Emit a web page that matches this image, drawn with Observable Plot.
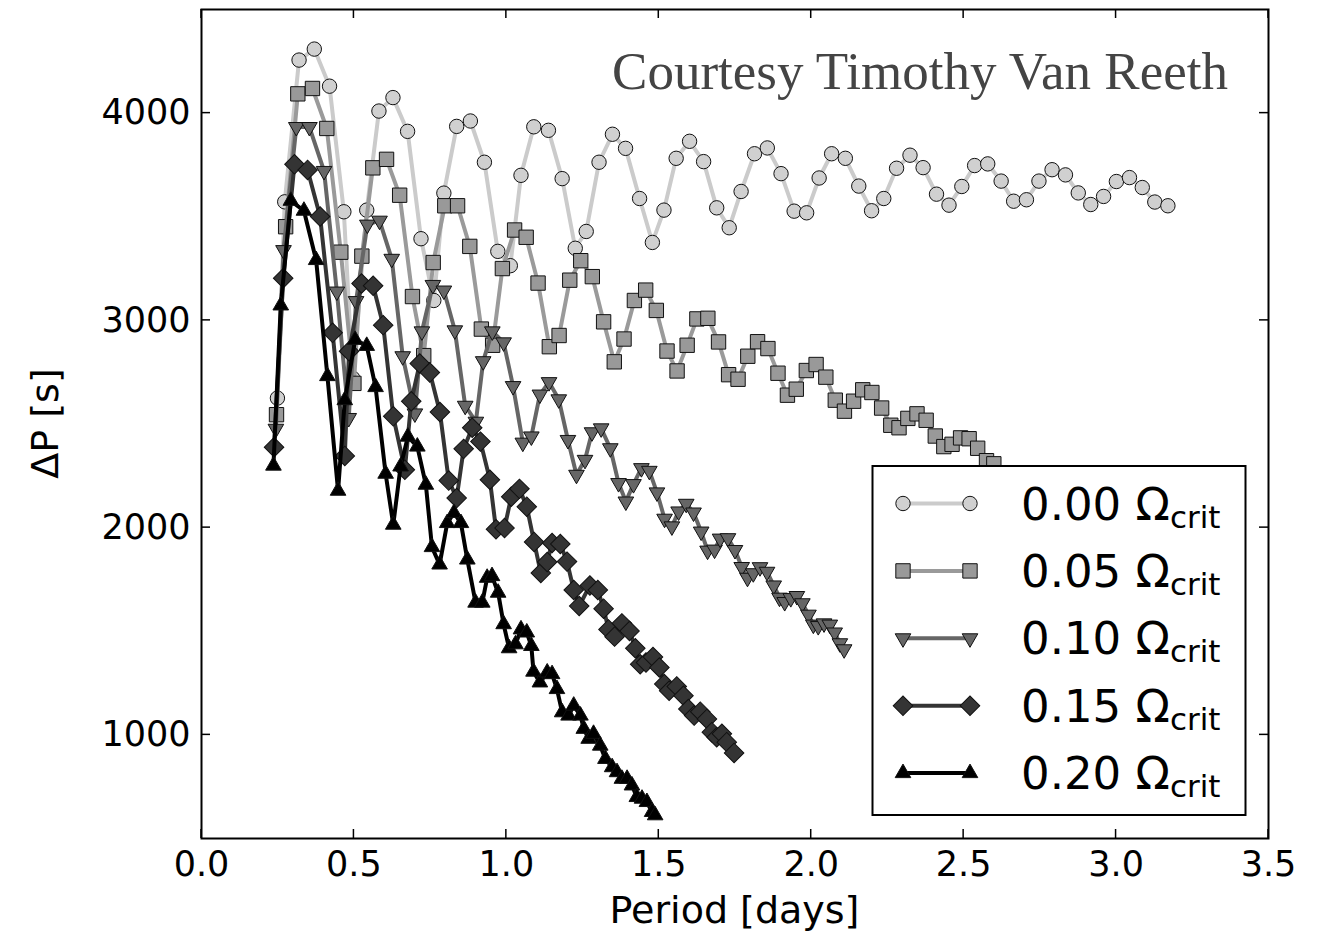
<!DOCTYPE html>
<html>
<head>
<meta charset="utf-8">
<script src="https://cdn.jsdelivr.net/npm/d3@7"></script>
<script src="https://cdn.jsdelivr.net/npm/@observablehq/plot@0.6"></script>
<style>
  html, body { margin: 0; padding: 0; background: #fff; }
  #chart { width: 1322px; height: 935px; }
</style>
</head>
<body>
<div id="chart"></div>
<script>
// ---- data ----
const seriesLabels = ["0.00", "0.05", "0.10", "0.15", "0.20"];

const period_000 = [0.249,0.273,0.320,0.370,0.420,0.467,0.496,0.542,0.582,0.628,0.676,0.720,0.762,0.795,0.837,0.882,0.928,0.972,1.013,1.048,1.090,1.138,1.183,1.226,1.262,1.304,1.348,1.391,1.437,1.479,1.517,1.557,1.601,1.647,1.690,1.731,1.770,1.814,1.856,1.901,1.944,1.985,2.026,2.067,2.112,2.156,2.198,2.238,2.280,2.324,2.367,2.411,2.452,2.494,2.536,2.579,2.623,2.664,2.706,2.747,2.790,2.834,2.876,2.917,2.959,3.001,3.044,3.086,3.127,3.170];
const dP_000 = [2625,3572,4256,4309,4130,3524,2721,3532,4010,4075,3912,3394,3096,3614,3936,3962,3763,3333,3264,3700,3934,3917,3684,3348,3429,3763,3898,3830,3588,3376,3532,3782,3864,3766,3543,3447,3622,3804,3832,3708,3527,3519,3687,3804,3782,3648,3529,3588,3734,3797,3737,3609,3556,3646,3747,3755,3672,3575,3582,3672,3727,3702,3615,3559,3598,3670,3689,3641,3571,3553];

const period_005 = [0.246,0.276,0.316,0.364,0.411,0.457,0.500,0.526,0.562,0.607,0.650,0.692,0.729,0.760,0.798,0.840,0.880,0.918,0.955,0.987,1.027,1.065,1.104,1.141,1.173,1.208,1.244,1.282,1.319,1.354,1.386,1.420,1.457,1.492,1.527,1.560,1.593,1.625,1.661,1.696,1.729,1.760,1.792,1.824,1.858,1.891,1.922,1.951,1.984,2.016,2.048,2.079,2.109,2.139,2.169,2.199,2.231,2.261,2.288,2.317,2.347,2.377,2.407,2.435,2.462,2.490,2.518,2.546,2.575,2.599];
const dP_005 = [2545,3452,4093,4119,3926,3329,2696,3310,3736,3777,3604,3115,2830,3279,3553,3553,3357,2958,2880,3250,3436,3401,3180,2873,2927,3194,3288,3211,2993,2800,2910,3096,3146,3048,2852,2756,2880,3007,3010,2896,2738,2716,2827,2897,2864,2745,2639,2668,2758,2787,2726,2615,2562,2610,2665,2652,2577,2494,2482,2527,2549,2518,2442,2391,2402,2433,2429,2383,2323,2308];

const period_010 = [0.244,0.269,0.311,0.354,0.402,0.444,0.483,0.507,0.544,0.584,0.624,0.660,0.700,0.723,0.759,0.795,0.831,0.865,0.900,0.924,0.954,0.991,1.022,1.054,1.082,1.110,1.140,1.172,1.202,1.230,1.258,1.281,1.311,1.341,1.368,1.392,1.417,1.443,1.469,1.494,1.519,1.543,1.565,1.590,1.614,1.639,1.660,1.683,1.701,1.727,1.750,1.772,1.791,1.810,1.832,1.855,1.877,1.896,1.913,1.933,1.953,1.971,1.991,2.007,2.023,2.042,2.061,2.077,2.094,2.108];
const dP_010 = [2477,3339,3933,3933,3721,3139,2529,3093,3462,3481,3297,2827,2551,2947,3171,3144,2952,2588,2511,2803,2947,2894,2683,2410,2440,2642,2702,2619,2423,2255,2327,2460,2479,2383,2215,2126,2210,2287,2274,2170,2043,2006,2078,2115,2073,1981,1889,1894,1947,1949,1892,1810,1758,1780,1809,1787,1721,1662,1641,1660,1670,1635,1580,1532,1525,1538,1532,1494,1442,1413];

const period_015 = [0.238,0.268,0.305,0.348,0.389,0.430,0.470,0.484,0.525,0.563,0.596,0.629,0.667,0.688,0.716,0.749,0.782,0.811,0.837,0.860,0.888,0.915,0.946,0.966,0.994,1.016,1.043,1.067,1.091,1.113,1.134,1.150,1.177,1.199,1.221,1.239,1.274,1.300,1.319,1.335,1.355,1.379,1.404,1.423,1.439,1.458,1.481,1.502,1.518,1.534,1.559,1.581,1.597,1.616,1.636,1.658,1.674,1.690,1.707,1.723,1.747];
const dP_015 = [2388,3203,3753,3726,3501,2940,2346,2851,3178,3167,2977,2537,2279,2610,2792,2748,2558,2227,2143,2380,2482,2415,2231,1992,1998,2149,2187,2101,1931,1781,1834,1926,1921,1836,1699,1622,1721,1699,1609,1509,1474,1538,1501,1418,1341,1349,1376,1325,1245,1213,1234,1189,1125,1093,1112,1077,1013,989,1005,965,913];

const period_020 = [0.236,0.260,0.293,0.336,0.376,0.413,0.448,0.470,0.504,0.542,0.571,0.604,0.629,0.653,0.677,0.708,0.736,0.756,0.781,0.806,0.828,0.851,0.872,0.899,0.921,0.937,0.953,0.973,0.991,1.009,1.030,1.048,1.067,1.082,1.089,1.110,1.134,1.150,1.166,1.183,1.204,1.221,1.243,1.254,1.270,1.286,1.308,1.325,1.347,1.363,1.379,1.396,1.412,1.428,1.445,1.461,1.478,1.488];
const dP_020 = [2299,3072,3577,3529,3291,2731,2178,2615,2906,2877,2678,2260,2014,2295,2439,2391,2207,1906,1822,2022,2071,2022,1846,1638,1638,1758,1766,1686,1534,1418,1437,1509,1494,1429,1305,1253,1301,1293,1221,1109,1093,1141,1093,1029,981,1005,948,884,844,820,788,788,756,700,692,676,628,612];

const xTicks = [0.0, 0.5, 1.0, 1.5, 2.0, 2.5, 3.0, 3.5];
const yTicks = [1000, 2000, 3000, 4000];

// ---- styling per series ----
const styles = [
  {symbol: "circle",   d3sym: d3.symbolCircle,   rotate: 0,   r: 7.2, fill: "#d0d0d0", line: "#cbcbcb"},
  {symbol: "square",   d3sym: d3.symbolSquare,   rotate: 0,   r: 8.1, fill: "#999999", line: "#9a9a9a"},
  {symbol: "triangle", d3sym: d3.symbolTriangle, rotate: 180, r: 5.8, fill: "#666666", line: "#666666"},
  {symbol: "square",   d3sym: d3.symbolSquare,   rotate: 45,  r: 7.8, fill: "#343434", line: "#343434"},
  {symbol: "triangle", d3sym: d3.symbolTriangle, rotate: 0,   r: 5.8, fill: "#000000", line: "#000000"}
];
const periods = [period_000, period_005, period_010, period_015, period_020];
const dPs = [dP_000, dP_005, dP_010, dP_015, dP_020];

const rows = seriesLabels.map((lab, k) =>
  periods[k].map((p, i) => ({series: lab, period: p, dP: dPs[k][i]})));

const seriesMarks = [];
rows.forEach((data, k) => {
  const s = styles[k];
  seriesMarks.push(Plot.line(data, {x: "period", y: "dP", stroke: s.line, strokeWidth: 4, strokeLinejoin: "round"}));
  seriesMarks.push(Plot.dot(data, {x: "period", y: "dP", symbol: s.symbol, r: s.r, rotate: s.rotate,
    fill: s.fill, stroke: "#111", strokeWidth: 1}));
});

const plot = Plot.plot({
  width: 1322, height: 935,
  marginLeft: 201, marginRight: 54, marginTop: 9, marginBottom: 97,
  x: {domain: [0, 3.5], label: null},
  y: {domain: [500, 4500], label: null},
  style: {fontFamily: "DejaVu Sans", background: "#fff", color: "#000", overflow: "visible"},
  marks: [
    ...seriesMarks,
    Plot.frame({stroke: "#000", strokeWidth: 2}),
    Plot.axisX({ticks: xTicks, tickSize: 0, tickPadding: 13, fontSize: 35, tickFormat: d3.format(".1f"), label: null}),
    Plot.axisY({ticks: yTicks, tickSize: 0, tickPadding: 11, fontSize: 35, tickFormat: d => String(d), label: null})
  ]
});

document.getElementById("chart").appendChild(plot);

// ---- extra decorations through the plot's own scales ----
const svg = d3.select(plot);
const sx = plot.scale("x"), sy = plot.scale("y");
const X = v => sx.apply(v), Y = v => sy.apply(v);
const x0 = X(0), x1 = X(3.5), y0 = Y(500), y1 = Y(4500);
const tickLen = 9;
const tg = svg.append("g").attr("stroke", "#000").attr("stroke-width", 1.5);
xTicks.forEach(t => {
  tg.append("line").attr("x1", X(t)).attr("x2", X(t)).attr("y1", y0).attr("y2", y0 - tickLen);
  tg.append("line").attr("x1", X(t)).attr("x2", X(t)).attr("y1", y1).attr("y2", y1 + tickLen);
});
yTicks.forEach(t => {
  tg.append("line").attr("y1", Y(t)).attr("y2", Y(t)).attr("x1", x0).attr("x2", x0 + tickLen);
  tg.append("line").attr("y1", Y(t)).attr("y2", Y(t)).attr("x1", x1).attr("x2", x1 - tickLen);
});

// axis titles
svg.append("text").attr("x", (x0 + x1) / 2).attr("y", 923).attr("text-anchor", "middle")
  .attr("font-family", "DejaVu Sans").attr("font-size", 38).attr("fill", "#000").text("Period [days]");
svg.append("text").attr("transform", `translate(58,${(y0 + y1) / 2}) rotate(-90)`).attr("text-anchor", "middle")
  .attr("font-family", "DejaVu Sans").attr("font-size", 38).attr("fill", "#000").text("ΔP [s]");

// courtesy note
svg.append("text").attr("x", 1228).attr("y", 89).attr("text-anchor", "end").attr("font-family", "Liberation Serif")
  .attr("font-size", 53).attr("fill", "#444").text("Courtesy Timothy Van Reeth");

// legend
const lg = svg.append("g").attr("text-anchor", "start");
lg.append("rect").attr("x", 872.5).attr("y", 466).attr("width", 373).attr("height", 349)
  .attr("fill", "#fff").attr("stroke", "#000").attr("stroke-width", 2);
seriesLabels.forEach((lab, k) => {
  const s = styles[k];
  const cy = 503.5 + k * 67.4;
  const xa = 903, xb = 970;
  lg.append("line").attr("x1", xa).attr("x2", xb).attr("y1", cy).attr("y2", cy)
    .attr("stroke", s.line).attr("stroke-width", 4);
  const path = d3.symbol(s.d3sym, Math.PI * s.r * s.r)();
  [xa, xb].forEach(px => {
    lg.append("path").attr("d", path).attr("transform", `translate(${px},${cy}) rotate(${s.rotate})`)
      .attr("fill", s.fill).attr("stroke", "#111").attr("stroke-width", 1);
  });
  const t = lg.append("text").attr("x", 1021).attr("y", cy + 16).attr("text-anchor", "start")
    .attr("font-family", "DejaVu Sans").attr("font-size", 45).attr("fill", "#000");
  t.append("tspan").text(lab + " Ω");
  t.append("tspan").attr("font-size", 31).attr("dy", 8).text("crit");
});
</script>
</body>
</html>
